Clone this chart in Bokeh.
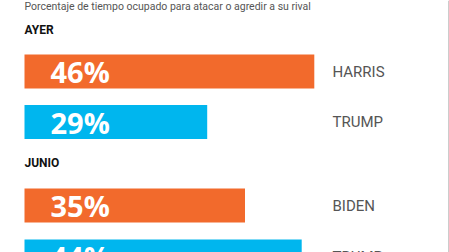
from bokeh.plotting import figure
from bokeh.models import Range1d, ColumnDataSource
from bokeh.core.properties import value
from bokeh.embed import file_html
from bokeh.resources import INLINE

subtitle = "Porcentaje de tiempo ocupado para atacar o agredir a su rival"
groups = ["AYER", "JUNIO"]
names = ["HARRIS", "TRUMP", "BIDEN", "TRUMP"]
values = [46, 29, 35, 44]
labels = ["46%", "29%", "35%", "44%"]
colors = ["#F26A2C", "#00B6EE", "#F26A2C", "#00B6EE"]

# layout constants (pixel rows)
bar_y = [71, 121.5, 205, 256]
group_y = [29, 162]
BAR_H = 34
K = 6.3  # px per percent
x0_px = 24
W, H = 449, 252

p = figure(width=W, height=H, output_backend="svg", toolbar_location=None,
           x_range=Range1d(-x0_px / K, (W - x0_px) / K), y_range=Range1d(H, 0),
           min_border=0)
p.axis.visible = False
p.grid.visible = False
p.outline_line_color = None
p.background_fill_color = "white"

src = ColumnDataSource(dict(y=bar_y, v=values, lab=labels, name=names, c=colors,
                            lx=[(50 - x0_px) / K] * 4, nx=[(332 - x0_px) / K] * 4))
p.hbar(y="y", left=0, right="v", height=BAR_H, fill_color="c", line_color=None, source=src)
p.text(x="lx", y="y", text="lab", source=src, text_color="white",
       text_font=value("Open Sans"), text_font_style="bold", text_font_size="29px",
       text_baseline="middle", text_align="left")
p.text(x="nx", y="y", text="name", source=src, text_color="#555555",
       text_font=value("Roboto"), text_font_size="15px",
       text_baseline="middle", text_align="left")

p.text(x=[0], y=[6], text=[subtitle], text_color="#555555", text_font=value("Roboto"),
       text_font_size="10.5px", text_baseline="alphabetic", text_align="left")
p.text(x=[0, 0], y=group_y, text=groups, text_color="#111111", text_font=value("Roboto"),
       text_font_style="bold", text_font_size="12px",
       text_baseline="middle", text_align="left")

# right border line
p.segment(x0=[(448 - x0_px) / K], x1=[(448 - x0_px) / K], y0=[0], y1=[H],
          line_color="#cccccc", line_width=1)

open("out.html", "w").write(file_html(p, INLINE))
